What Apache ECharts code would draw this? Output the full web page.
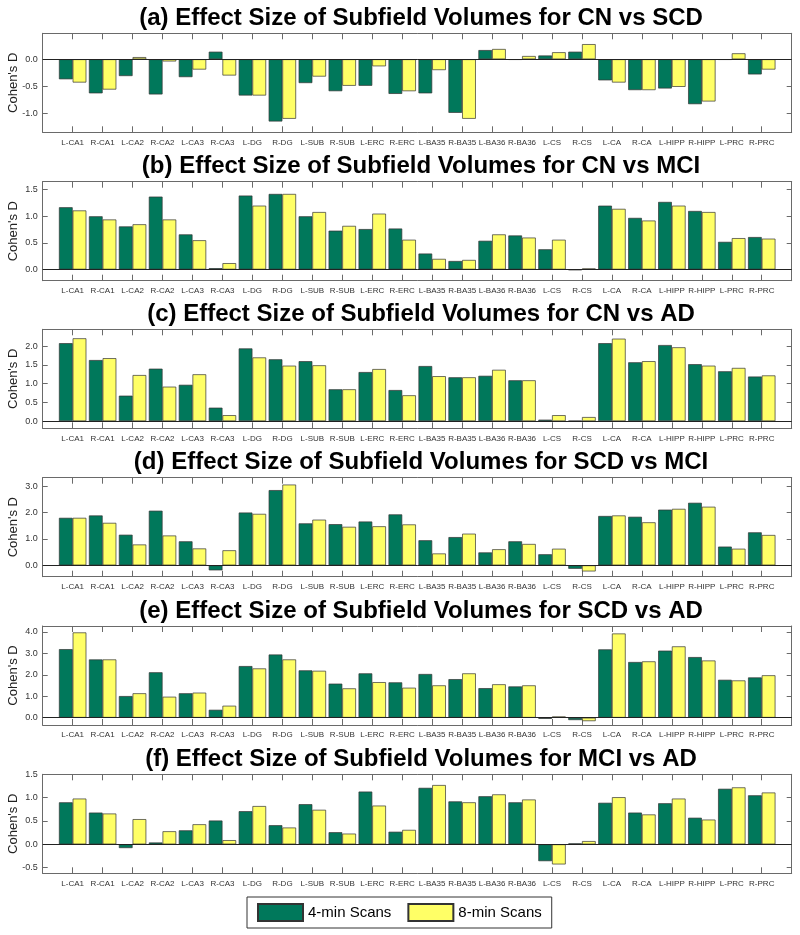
<!DOCTYPE html>
<html>
<head>
<meta charset="utf-8">
<script src="https://cdn.jsdelivr.net/npm/echarts@6/dist/echarts.min.js"></script>
<style>
html,body{margin:0;padding:0;background:#fff;}
#chart{width:800px;height:935px;}
</style>
</head>
<body>
<div id="chart"></div>
<script>
const categories = ['L-CA1','R-CA1','L-CA2','R-CA2','L-CA3','R-CA3','L-DG','R-DG','L-SUB','R-SUB','L-ERC','R-ERC','L-BA35','R-BA35','L-BA36','R-BA36','L-CS','R-CS','L-CA','R-CA','L-HIPP','R-HIPP','L-PRC','R-PRC'];

const panelTitles = [
  '(a) Effect Size of Subfield Volumes for CN vs SCD',
  '(b) Effect Size of Subfield Volumes for CN vs MCI',
  '(c) Effect Size of Subfield Volumes for CN vs AD',
  '(d) Effect Size of Subfield Volumes for SCD vs MCI',
  '(e) Effect Size of Subfield Volumes for SCD vs AD',
  '(f) Effect Size of Subfield Volumes for MCI vs AD'
];
const seriesNames = ['4-min Scans', '8-min Scans'];
const yAxisName = "Cohen's D";

const cnScd4 = [-0.37,-0.63,-0.31,-0.65,-0.33,0.14,-0.67,-1.15,-0.44,-0.59,-0.49,-0.64,-0.63,-0.99,0.17,-0.01,0.07,0.14,-0.39,-0.57,-0.54,-0.83,-0.01,-0.28];
const cnScd8 = [-0.43,-0.56,0.04,-0.04,-0.19,-0.30,-0.67,-1.10,-0.32,-0.49,-0.13,-0.59,-0.20,-1.10,0.19,0.06,0.13,0.28,-0.43,-0.57,-0.51,-0.78,0.11,-0.19];

const cnMci4 = [1.17,1.00,0.81,1.37,0.66,0.025,1.39,1.42,1.00,0.73,0.76,0.77,0.30,0.16,0.54,0.64,0.38,-0.01,1.20,0.97,1.27,1.10,0.52,0.61];
const cnMci8 = [1.11,0.94,0.85,0.94,0.55,0.12,1.20,1.42,1.08,0.82,1.05,0.56,0.20,0.18,0.66,0.60,0.56,0.02,1.14,0.92,1.20,1.08,0.59,0.58];

const cnAd4 = [2.08,1.63,0.68,1.40,0.97,0.36,1.94,1.65,1.60,0.85,1.31,0.83,1.47,1.17,1.21,1.09,0.04,0.01,2.08,1.57,2.03,1.52,1.33,1.19];
const cnAd8 = [2.21,1.68,1.23,0.92,1.25,0.16,1.70,1.48,1.49,0.85,1.39,0.69,1.20,1.17,1.37,1.09,0.16,0.11,2.20,1.60,1.97,1.48,1.42,1.22];

const scdMci4 = [1.80,1.89,1.16,2.07,0.91,-0.19,2.00,2.85,1.59,1.56,1.66,1.93,0.95,1.07,0.49,0.91,0.42,-0.13,1.87,1.84,2.11,2.37,0.71,1.25];
const scdMci8 = [1.80,1.61,0.79,1.13,0.64,0.57,1.95,3.06,1.73,1.46,1.48,1.55,0.45,1.20,0.61,0.81,0.63,-0.23,1.89,1.63,2.14,2.22,0.63,1.15];

const scdAd4 = [3.20,2.72,1.01,2.12,1.14,0.37,2.41,2.95,2.21,1.59,2.07,1.65,2.04,1.80,1.38,1.46,-0.05,-0.11,3.19,2.60,3.13,2.83,1.77,1.88];
const scdAd8 = [3.98,2.72,1.14,0.98,1.17,0.56,2.30,2.72,2.19,1.37,1.66,1.40,1.51,2.07,1.56,1.51,0.06,-0.16,3.93,2.63,3.33,2.67,1.74,1.98];

const mciAd4 = [0.90,0.68,-0.08,0.04,0.30,0.51,0.71,0.41,0.86,0.26,1.13,0.27,1.21,0.92,1.03,0.90,-0.36,0.02,0.89,0.68,0.88,0.57,1.19,1.05];
const mciAd8 = [0.98,0.66,0.54,0.28,0.43,0.09,0.82,0.36,0.74,0.23,0.83,0.31,1.27,0.90,1.07,0.96,-0.43,0.07,1.01,0.64,0.98,0.53,1.22,1.11];

const values4 = [cnScd4, cnMci4, cnAd4, scdMci4, scdAd4, mciAd4];
const values8 = [cnScd8, cnMci8, cnAd8, scdMci8, scdAd8, mciAd8];

const yMin = [-1.35, -0.21, -0.19, -0.43, -0.34, -0.62];
const yMax = [0.48, 1.65, 2.45, 3.32, 4.28, 1.50];
const yStep = [0.5, 0.5, 0.5, 1, 1, 0.5];

// layout
const gridTop = [33.3, 181.7, 329.3, 477.7, 626, 774.3];
const gridH = 99, gridL = 42.7, gridR = 8.3;
const FONT = 'Liberation Sans, Arial, Helvetica, sans-serif';
const AXIS_COLOR = '#6a6a6a';
const GREEN = '#00785B', YELLOW = '#FFFF66', EDGE = '#333333';

const padCats = [''].concat(categories, ['']);
const nCat = padCats.length;

const grids = [], xAxes = [], yAxes = [], series = [], titles = [];
for (let i = 0; i < 6; i++) {
  grids.push({left: gridL, right: gridR, top: gridTop[i], height: gridH, containLabel: false, outerBoundsMode: 'none'});
  titles.push({
    text: panelTitles[i], left: 421, top: gridTop[i] - 27, textAlign: 'center', padding: 0,
    textStyle: {fontFamily: FONT, fontSize: 24, fontWeight: 'bold', color: '#000'}
  });
  const tickCommon = {show: true, inside: true, length: 6, interval: (idx) => idx > 0 && idx < nCat - 1,
    lineStyle: {color: AXIS_COLOR, width: 1}};
  xAxes.push({
    gridIndex: i, type: 'category', data: padCats, boundaryGap: false, position: 'bottom',
    axisLine: {show: true, onZero: false, lineStyle: {color: AXIS_COLOR, width: 1}},
    axisTick: tickCommon,
    axisLabel: {interval: 0, hideOverlap: false, fontFamily: FONT, fontSize: 8, color: '#333', margin: 6},
    splitLine: {show: false}
  });
  xAxes.push({
    gridIndex: i, type: 'category', data: padCats, boundaryGap: false, position: 'top',
    axisLine: {show: true, onZero: false, lineStyle: {color: AXIS_COLOR, width: 1}},
    axisTick: tickCommon,
    axisLabel: {show: false}, splitLine: {show: false}
  });
  const step = yStep[i];
  const fmt = (v) => {
    const k = v / step;
    if (Math.abs(k - Math.round(k)) > 1e-6) return '';
    return (Math.round(k) * step).toFixed(1);
  };
  const yCommon = {
    gridIndex: i, type: 'value', min: yMin[i], max: yMax[i], minInterval: step, maxInterval: step,
    axisLine: {show: true, onZero: false, lineStyle: {color: AXIS_COLOR, width: 1}},
    axisTick: {show: true, inside: true, length: 5, lineStyle: {color: AXIS_COLOR, width: 1}},
    splitLine: {show: false}
  };
  yAxes.push(Object.assign({}, yCommon, {
    position: 'left',
    axisLabel: {formatter: fmt, fontFamily: FONT, fontSize: 9, color: '#333', margin: 5},
    name: yAxisName, nameLocation: 'middle', nameGap: 23, nameMoveOverlap: false,
    nameTextStyle: {fontFamily: FONT, fontSize: 13, color: '#222'}
  }));
  yAxes.push(Object.assign({}, yCommon, {position: 'right', axisLabel: {show: false}}));

  const d4 = [null].concat(values4[i], [null]);
  const d8 = [null].concat(values8[i], [null]);
  series.push({
    name: seriesNames[0], type: 'bar', xAxisIndex: 2 * i, yAxisIndex: 2 * i, data: d4,
    barWidth: 13.7, barGap: '0%',
    itemStyle: {color: GREEN, borderColor: EDGE, borderWidth: 0.7},
    markLine: {silent: true, symbol: ['none', 'none'], label: {show: false},
      lineStyle: {color: '#222', width: 1, type: 'solid'}, data: [{yAxis: 0}], animation: false}
  });
  series.push({
    name: seriesNames[1], type: 'bar', xAxisIndex: 2 * i, yAxisIndex: 2 * i, data: d8,
    barWidth: 13.7, barGap: '0%',
    itemStyle: {color: YELLOW, borderColor: EDGE, borderWidth: 0.7}
  });
}

const chart = echarts.init(document.getElementById('chart'));
chart.setOption({
  animation: false,
  backgroundColor: '#fff',
  title: titles,
  grid: grids,
  xAxis: xAxes,
  yAxis: yAxes,
  legend: {
    data: seriesNames, left: 247, top: 897, orient: 'horizontal',
    itemWidth: 45, itemHeight: 17, itemGap: 16, padding: [6, 10],
    borderColor: '#333', borderWidth: 1, icon: 'rect',
    textStyle: {fontFamily: FONT, fontSize: 15, color: '#000'}
  },
  series: series
});
</script>
</body>
</html>
